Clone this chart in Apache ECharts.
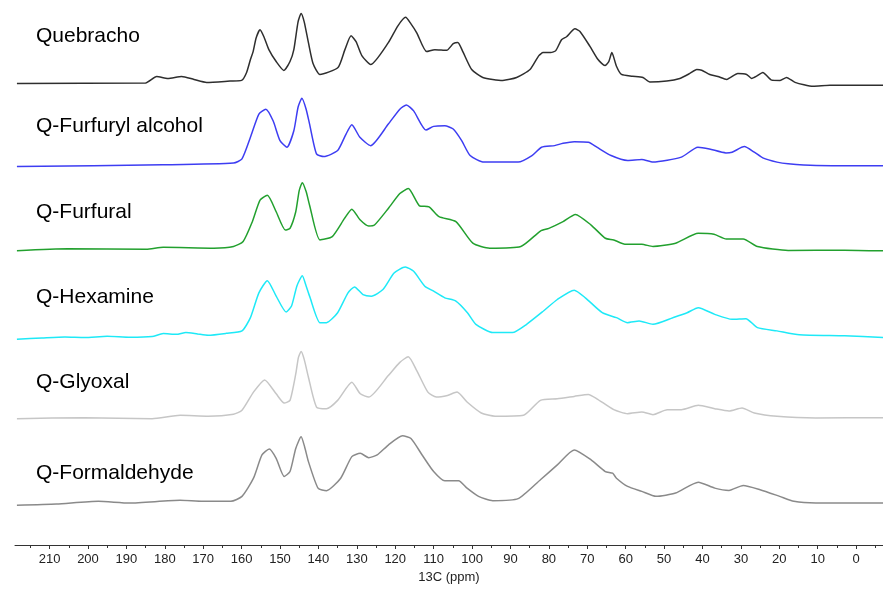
<!DOCTYPE html>
<html>
<head>
<meta charset="utf-8">
<script src="https://cdn.jsdelivr.net/npm/echarts@6/dist/echarts.min.js"></script>
<style>
  html, body { margin: 0; padding: 0; background: #fff; }
  #chart { width: 883px; height: 589px; }
</style>
</head>
<body>
<div id="chart"></div>
<script>
// 13C CP-MAS spectra, [ppm, intensity above the trace's own baseline]
var quebracho = [[218.5,0],[185,0.5],[182.1,7],[179.2,5],[175.6,7],[172.4,4],[169.1,1],[163,2.3],[160,3],[158.7,11],[157.7,24],[157,32],[156.2,46],[155.2,54],[154.2,47],[152.9,34],[151,22],[149,13],[147.4,22],[146.4,34],[145.3,62],[144.5,70.5],[143.7,62],[142.6,41],[141.4,20],[139.6,9],[134.9,16],[133.1,34],[131.5,48],[130.2,42],[128.7,28],[126.4,19],[121.8,41],[119.3,58],[117.3,66.5],[115.9,60],[114.4,51],[111.8,32],[109.7,34],[106.6,33.3],[104.9,40],[103.7,41.3],[102.4,32],[100.1,14],[97.2,6],[92,3],[88.4,6],[84.9,14],[82.6,28],[81.5,31],[79.5,31],[78.2,33],[76.7,44],[75.4,47],[73.2,55],[71.9,52.3],[69.3,37.3],[67.2,24],[65.4,18],[64.4,22],[63.6,31],[62.4,17.3],[61.1,9],[58.2,7.3],[55.5,6],[53.7,1.3],[49.3,2.3],[45.9,5],[43.3,10],[41.5,14],[40.2,13.3],[38.1,9],[36,7],[33.7,4],[30.8,10],[28.5,9],[27.2,5],[25.9,7.3],[24.3,11],[22,3.3],[19.8,3],[18.1,6],[15.9,1],[11.2,-3],[6.8,-2],[-7,-2]];

var furfurylAlcohol = [[218.5,-0.7],[180.5,1],[162.1,2.7],[159.9,7],[157.7,28.7],[155.5,52],[153.7,57],[151.8,45.3],[150,25.3],[148.2,18.7],[146.4,35.3],[145.3,59],[144.3,68],[143.2,57],[142.3,42],[140.5,12],[138.6,9.3],[135,15.3],[132.8,32],[131.3,41.3],[129.2,28.7],[126.4,20.3],[121.8,42],[118.8,57],[117.1,61.3],[115.2,55.3],[112,36],[110,39.7],[107.1,40.3],[104.9,37],[102.7,25.3],[100.5,10.3],[96.9,3.7],[88,3.7],[84.4,10.3],[81.9,18.7],[78.5,20.3],[76.3,22.7],[73.4,24.3],[69.7,23.7],[67.5,18.7],[63.8,10.3],[59.5,5.3],[55.8,6.3],[52.9,3.7],[45.5,8.7],[41.2,18.7],[38.2,17],[33.9,13],[32.3,13.7],[29.1,19.3],[26.5,13.7],[24.3,8],[20.6,3.7],[17.7,2],[10.4,0.3],[-7,0]];

var furfural = [[218.5,-0.7],[205.3,1.3],[184.8,1],[180.4,3],[167.2,2],[162.1,3.7],[159.6,8.7],[157.2,28.7],[155.2,50.3],[153.3,55.3],[151,38.7],[148.6,20.3],[147.4,22],[145.9,38.7],[145,60],[144.2,68],[143.2,59],[142.3,45.3],[139.6,10.3],[136.4,13.7],[133.2,32],[131.3,41.3],[129.1,30.3],[126.9,24.3],[125.4,25.3],[121.8,42],[118.8,57],[116.6,62],[113.7,44.7],[111.2,43.7],[108.6,33.7],[104.2,28.7],[99.8,7],[95.4,2],[87.3,3.7],[82.2,19.3],[80,22],[76.3,28.7],[73.1,36],[69,25.3],[65.3,12],[63.1,10.3],[60.2,6],[55.8,6],[52.9,3.7],[47,7],[41.1,17],[37,16],[33.8,11.3],[29.4,11.3],[25.7,3.7],[17.7,-0.3],[3,0],[-7,-0.7]];

var hexamine = [[218.5,-1.7],[212,-0.5],[206,0.5],[200.9,0],[195,1.2],[189,0.2],[183.3,1],[180.4,4],[177,3.2],[174.5,5],[171.5,3.6],[168.7,2.3],[164,4.2],[159.9,6.7],[157.7,20],[155.5,45],[153.3,57.3],[151,41.7],[148.4,25.7],[147,31.7],[145.6,52],[144.2,62.3],[143.2,52],[142.3,41.7],[139.6,15],[137.9,15],[135,25],[132.3,45],[130.6,51],[128.4,43.3],[126.2,41.7],[123.2,48.3],[120.3,65],[117.4,71],[115.2,66.7],[112.3,51.7],[110,46.7],[107.1,40],[104.2,36.7],[101.2,25],[99,13.3],[94.6,5],[89.5,5],[85.8,13.3],[81.4,26.7],[77.8,38.3],[73.4,47.7],[70.5,40],[66.1,25],[62.4,20],[59.5,15],[56.5,16.7],[52.9,13.3],[47.7,20],[44,25],[41.1,30],[36.8,23.3],[32.3,18.3],[28.7,19],[25.7,10],[20.6,6.7],[14.8,2.7],[3,1.7],[-7,0]];

var glyoxal = [[218.5,-0.7],[200.9,0.3],[183.3,-0.7],[176,2.7],[168.7,1.7],[162.1,3.7],[159.9,7.7],[156.9,26],[154,38.3],[151,24.3],[148.9,15],[147.4,17.7],[145.9,44.3],[145.2,61],[144.5,67],[143.7,59],[142.6,41],[140.5,11],[137.9,9.3],[135,17.7],[131.3,36],[129.1,24.3],[126.9,21],[121.8,42.7],[118.8,56],[116.6,61.7],[114.4,47.7],[111.5,26],[109.3,21],[106.4,22.7],[103.9,26],[101.3,16],[97.6,5],[94,1.7],[86.6,2.7],[82.2,17.7],[77.8,19.3],[73.4,21.7],[69.7,23.7],[67.5,19.3],[63.1,8.3],[59.5,4.3],[55.8,6],[52.9,3.3],[49.2,8.3],[45.5,8.3],[41.1,12.7],[36.8,9.3],[33.1,7],[29.7,10],[26.5,5],[20.6,1.7],[10.5,0],[-7,0.3]];

var formaldehyde = [[218.5,-3],[208.2,-1.7],[197.3,1],[189.2,-0.7],[176,2],[170.1,1],[162.8,1],[159.9,6],[156.9,24.3],[154.7,47.7],[152.8,53.7],[151,44.3],[148.9,26],[147.4,31],[145.9,54.3],[144.5,66],[143.6,56],[142.6,41],[140.1,14.3],[137.9,11.7],[134.2,24.3],[131.3,46],[129.1,49.3],[126.9,45],[124.7,47.7],[121.8,57.7],[118.1,67],[115.9,64.3],[113,47.7],[110,31],[107.1,21.7],[103.5,21.7],[101.3,14.3],[98.3,6],[94.6,1.7],[88,3.7],[82.2,22.7],[77.8,37.7],[73.4,52.7],[69,42.7],[65.3,31],[63.4,29.3],[62.4,24.3],[59.5,16],[55.8,11],[52.1,6],[47,9.3],[41.1,20.3],[36.8,14.3],[33.1,12],[29.4,17],[25,12.7],[19.9,6],[16.2,1],[10.5,-0.7],[-7,-0.7]];

var traceNames = ['Quebracho', 'Q-Furfuryl alcohol', 'Q-Furfural', 'Q-Hexamine', 'Q-Glyoxal', 'Q-Formaldehyde'];
var traces = [quebracho, furfurylAlcohol, furfural, hexamine, glyoxal, formaldehyde];
// vertical offset of each trace in the stack
var traceOffsets = [465, 382, 297, 209, 128, 43];
var majorTicks = [210, 200, 190, 180, 170, 160, 150, 140, 130, 120, 110, 100, 90, 80, 70, 60, 50, 40, 30, 20, 10, 0];
var minorTicks = [215, 205, 195, 185, 175, 165, 155, 145, 135, 125, 115, 105, 95, 85, 75, 65, 55, 45, 35, 25, 15, 5, -5];

var colors = ['#2e2e2e', '#3d3df2', '#22a02e', '#1ee9f7', '#c6c6c6', '#8a8a8a'];
var labelY = [38, 128, 214, 299, 384, 475];

var myChart = echarts.init(document.getElementById('chart'));

var series = traces.map(function (tr, i) {
    return {
        name: traceNames[i],
        type: 'line',
        xAxisIndex: 0,
        showSymbol: false,
        smooth: 0.2,
        silent: true,
        lineStyle: { color: colors[i], width: 1.5 },
        data: tr.map(function (p) { return [p[0], p[1] + traceOffsets[i]]; })
    };
});

var graphics = traceNames.map(function (n, i) {
    return {
        type: 'text',
        left: 36,
        top: labelY[i] - 12,
        style: {
            text: n,
            fill: '#000',
            font: '21px "Liberation Sans", Arial, sans-serif'
        }
    };
});

option = {
    animation: false,
    backgroundColor: '#fff',
    grid: { left: 15, right: 0, top: 0, bottom: 40 },
    xAxis: [
        {
            type: 'value',
            inverse: true,
            min: -7,
            max: 219,
            name: '13C (ppm)',
            nameLocation: 'middle',
            nameGap: 26,
            nameTextStyle: { color: '#222', fontSize: 13, fontFamily: 'Liberation Sans' },
            axisLine: { lineStyle: { color: '#333', width: 1 } },
            axisTick: { customValues: majorTicks, length: 4, lineStyle: { color: '#333' } },
            axisLabel: { customValues: majorTicks, color: '#222', fontSize: 13, margin: 8, fontFamily: 'Liberation Sans' },
            splitLine: { show: false }
        },
        {
            type: 'value',
            inverse: true,
            min: -7,
            max: 219,
            position: 'bottom',
            axisLine: { show: false },
            axisTick: { customValues: minorTicks, length: 3, lineStyle: { color: '#333' } },
            axisLabel: { show: false },
            splitLine: { show: false }
        }
    ],
    yAxis: { type: 'value', min: 0, max: 549, show: false },
    graphic: graphics,
    series: series
};

myChart.setOption(option);
</script>
</body>
</html>
